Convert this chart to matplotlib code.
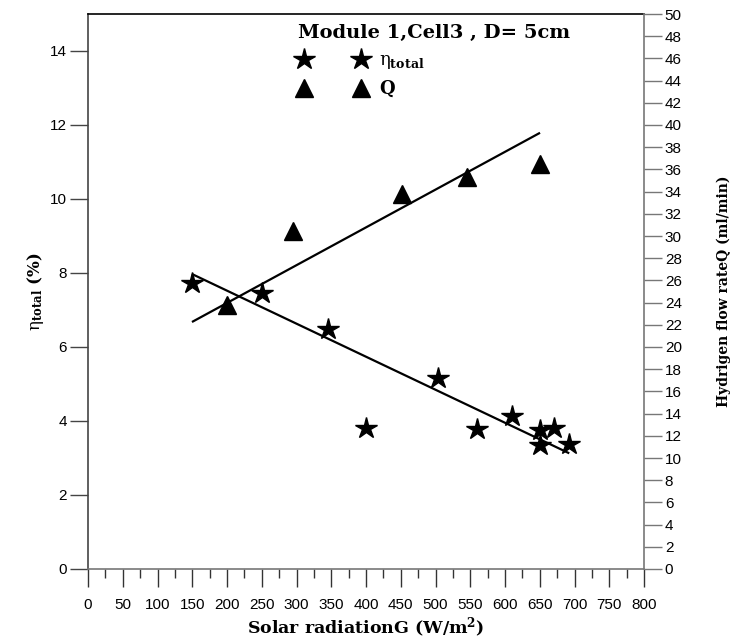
import matplotlib
matplotlib.use('Agg')
import matplotlib.pyplot as plt
import numpy as np

# ---- data ----
G_eta = [150, 250, 345, 400, 504, 560, 610, 650, 650, 670, 692]
eta_total = [7.73, 7.46, 6.49, 3.82, 5.17, 3.78, 4.14, 3.76, 3.35, 3.82, 3.37]

G_Q = [200, 295, 452, 546, 650]
Q = [23.8, 30.45, 33.8, 35.3, 36.5]

# fitted lines (end points as drawn)
fit_eta_G = [151, 691]
fit_eta_y = [7.96, 3.14]
fit_Q_G = [151, 649]
fit_Q_y = [22.3, 39.25]

x_ticks = np.arange(0, 801, 50)
left_ticks = np.arange(0, 15, 2)
right_ticks = np.arange(0, 51, 2)

plt.rcParams['mathtext.fontset'] = 'dejavuserif'
serif_b = {'family': 'DejaVu Serif', 'weight': 'bold'}

fig = plt.figure(figsize=(7.34, 6.43), dpi=100)
ax = fig.add_axes([88/734, 1-569/643, (644-88)/734, (569-14)/643])
ax2 = ax.twinx()

# stars -> left axis
ax.plot(G_eta, eta_total, ls='none', marker='*', ms=16, color='black',
        label=r'$\mathrm{\eta}_{\mathbf{total}}$')
ax.plot(fit_eta_G, fit_eta_y, color='black', lw=1.6)

# triangles -> right axis
ax2.plot(G_Q, Q, ls='none', marker='^', ms=13, color='black', label='Q')
ax2.plot(fit_Q_G, fit_Q_y, color='black', lw=1.6)

ax.set_xlim(0, 800)
ax.set_ylim(0, 15)
ax2.set_ylim(0, 50)

ax.set_xticks(x_ticks)
ax.set_xticks(np.arange(25, 800, 50), minor=True)
ax.set_yticks(left_ticks)
ax2.set_yticks(right_ticks)

for a in (ax, ax2):
    for lab in a.get_xticklabels() + a.get_yticklabels():
        lab.set_fontfamily('Liberation Sans')
        lab.set_fontsize(11)

ax.tick_params(axis='y', direction='out', length=13, width=1, color='#444444', pad=2)
ax.tick_params(axis='x', which='major', direction='out', length=13, width=1, color='#333333', pad=8)
ax.tick_params(axis='x', which='minor', direction='out', length=6.5, width=1, color='#333333')
ax2.tick_params(axis='y', direction='out', length=13, width=1, color='#777777', pad=2)

ax.spines['left'].set_color('#444444')
ax.spines['bottom'].set_color('#777777')
ax.spines['top'].set_color('black')
ax.spines['right'].set_visible(False)
ax2.spines['right'].set_color('#777777')
ax2.spines['left'].set_visible(False)
ax2.spines['top'].set_visible(False)
ax2.spines['bottom'].set_visible(False)
for s in ax.spines.values():
    s.set_linewidth(1.2)
ax2.spines['right'].set_linewidth(1.2)

ax.set_xlabel(r'Solar radiationG (W/m$^\mathbf{2}$)', fontsize=12.5, labelpad=3, **serif_b)
ax.set_ylabel(r'$\mathrm{\eta}_{\mathbf{total}}$ (%)', fontsize=12, labelpad=3, **serif_b)
ax2.set_ylabel('Hydrigen flow rateQ (ml/min)', fontsize=10, labelpad=25, **serif_b)

h1, l1 = ax.get_legend_handles_labels()
h2, l2 = ax2.get_legend_handles_labels()
leg = ax2.legend(h1[:1] + h2[:1], l1[:1] + l2[:1], numpoints=2,
                 title='Module 1,Cell3 , D= 5cm', alignment='left',
                 loc='upper left', bbox_to_anchor=(0.378, 0.982),
                 frameon=False, borderpad=0, borderaxespad=0,
                 handlelength=3.8, handletextpad=0.7, labelspacing=0.5,
                 prop={'family': 'DejaVu Serif', 'weight': 'bold', 'size': 13},
                 title_fontproperties={'family': 'DejaVu Serif', 'weight': 'bold', 'size': 14})

fig.savefig('out.png', dpi=100)
